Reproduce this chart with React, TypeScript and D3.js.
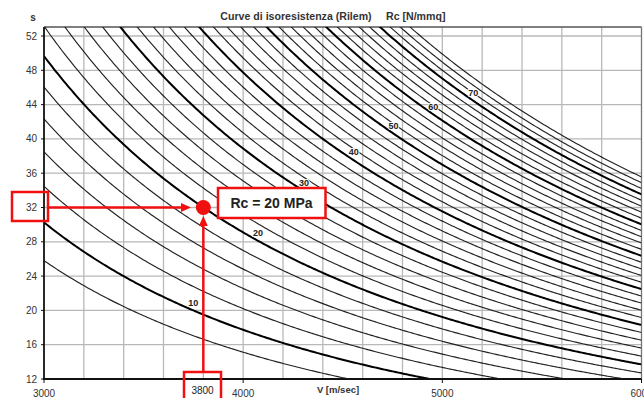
import React from "react";
import * as d3 from "d3";

// Rc levels of the isoresistance curves (N/mm²)
const rcLevels = [8, 10, 12, 14, 16, 18, 20, 22, 24, 26, 28, 30, 32, 34, 36, 38, 40, 42, 44, 46, 48, 50, 52, 54, 56, 58, 60, 62, 64, 66, 68, 70, 72, 74, 76];
const majorLevels = [10, 20, 30, 40, 50, 60, 70];
// V positions (m/s) where the curve labels sit
const labelV = [3750, 4075, 4305, 4555, 4755, 4955, 5155];
// RILEM SonReb relation: Rc = a * S^b * V^c
const rilemA = 7.695e-11;
const rilemB = 1.4;
const rilemC = 2.6;

const xTicks = [3000, 4000, 5000, 6000];
const xGrid = [3200, 3400, 3600, 3800, 4000, 4200, 4400, 4600, 4800, 5000, 5200, 5400, 5600, 5800];
const yTicks = [12, 16, 20, 24, 28, 32, 36, 40, 44, 48, 52];

const pointV = 3800;
const pointS = 32;
const pointLabel = "Rc = 20 MPa";

const W = 644;
const H = 398;
const FONT = "'Liberation Sans', Arial, sans-serif";

export default function App() {
  const x = d3.scaleLinear().domain([3000, 6000]).range([44, 641.5]);
  const y = d3.scaleLinear().domain([12, 52]).range([379, 36]);
  const left = x(3000), right = x(6000), bottom = y(12), top = y(53.05);

  const sOf = (rc: number, v: number) => Math.pow(rc / (rilemA * Math.pow(v, rilemC)), 1 / rilemB);
  const vs = d3.range(3000, 6001, 10);

  const red = "#f01010";
  const px = x(pointV), py = y(pointS);

  return (
    <svg width={W} height={H} style={{ position: "absolute", left: 0, top: 0, background: "#fff" }} fontFamily={FONT}>
      <defs>
        <clipPath id="plot">
          <rect x={left} y={top} width={right - left} height={bottom - top} />
        </clipPath>
      </defs>
      <rect x={0} y={0} width={W} height={H} fill="#fff" />
      {/* grid */}
      {xGrid.map((v) => (
        <line key={"gx" + v} x1={x(v)} x2={x(v)} y1={top} y2={bottom} stroke="#b8b8b8" strokeWidth={1.3} />
      ))}
      {yTicks.slice(1).map((s) => (
        <line key={"gy" + s} x1={left} x2={right} y1={y(s)} y2={y(s)} stroke="#b8b8b8" strokeWidth={1.3} />
      ))}
      <line x1={left} x2={right} y1={top} y2={top} stroke="#555" strokeWidth={1.4} />
      <line x1={right} x2={right} y1={top} y2={bottom} stroke="#777" strokeWidth={1.3} />

      {/* curves */}
      <g clipPath="url(#plot)">
        {rcLevels.map((rc) => {
          const d = d3
            .line<number>()
            .x((v) => x(v))
            .y((v) => y(sOf(rc, v)))(vs);
          const major = majorLevels.includes(rc);
          return (
            <path key={rc} d={d || ""} fill="none" stroke={major ? "#000" : "#222"} strokeWidth={major ? 2 : 1.15} />
          );
        })}
      </g>

      {/* curve labels */}
      {majorLevels.map((rc, i) => (
        <text
          key={"lab" + rc}
          x={x(labelV[i])}
          y={y(sOf(rc, labelV[i])) - 8}
          dy="0.35em"
          textAnchor="middle"
          fontSize={9}
          fontWeight="bold"
          fill="#222"
          stroke="#fff"
          strokeWidth={2}
          paintOrder="stroke"
        >
          {rc}
        </text>
      ))}

      {/* axes */}
      <line x1={left} x2={left} y1={top} y2={bottom + 1} stroke="#111" strokeWidth={1.8} />
      <line x1={left - 1} x2={right} y1={bottom} y2={bottom} stroke="#111" strokeWidth={1.8} />
      {yTicks.map((s) => (
        <g key={"yt" + s}>
          <line x1={left - 3} x2={left} y1={y(s)} y2={y(s)} stroke="#111" strokeWidth={1} />
          <text x={37} y={y(s)} dy="0.35em" textAnchor="end" fontSize={10} fill="#333">
            {s}
          </text>
        </g>
      ))}
      {xTicks.map((v) => (
        <g key={"xt" + v}>
          <line x1={x(v)} x2={x(v)} y1={bottom} y2={bottom + 4} stroke="#111" strokeWidth={1} />
          <text x={x(v)} y={396.5} textAnchor="middle" fontSize={10} fill="#333">
            {v}
          </text>
        </g>
      ))}
      <text x={338} y={392.5} textAnchor="middle" fontSize={9.5} fontWeight="bold" fill="#333">
        V [m/sec]
      </text>
      <text x={33} y={21} textAnchor="middle" fontSize={10} fontWeight="bold" fill="#333">
        s
      </text>
      <text x={296} y={19.5} textAnchor="middle" fontSize={10.6} fontWeight="bold" fill="#333">
        Curve di isoresistenza (Rilem)
      </text>
      <text x={386} y={19.5} textAnchor="start" fontSize={10.6} fontWeight="bold" fill="#333">
        Rc [N/mmq]
      </text>

      {/* annotations */}
      <rect x={12} y={192} width={36} height={29} fill="none" stroke={red} strokeWidth={2.5} />
      <line x1={48} x2={184} y1={py} y2={py} stroke={red} strokeWidth={2.5} />
      <path d={`M${191},${py} L${181},${py - 4.5} L${181},${py + 4.5} Z`} fill={red} />
      <rect x={184} y={372} width={37} height={30} fill="none" stroke={red} strokeWidth={2.5} />
      <text x={202.5} y={393.5} textAnchor="middle" fontSize={10} fill="#222">
        {pointV}
      </text>
      <line x1={px} x2={px} y1={372} y2={224} stroke={red} strokeWidth={2.5} />
      <path d={`M${px},${216} L${px - 4.5},${226} L${px + 4.5},${226} Z`} fill={red} />
      <circle cx={px} cy={py} r={7.5} fill={red} />
      <rect x={218} y={188} width={107.5} height={30} fill="#fff" stroke={red} strokeWidth={2.5} />
      <text x={271.5} y={208} textAnchor="middle" fontSize={14} fontWeight="bold" fill="#222">
        {pointLabel}
      </text>
    </svg>
  );
}
